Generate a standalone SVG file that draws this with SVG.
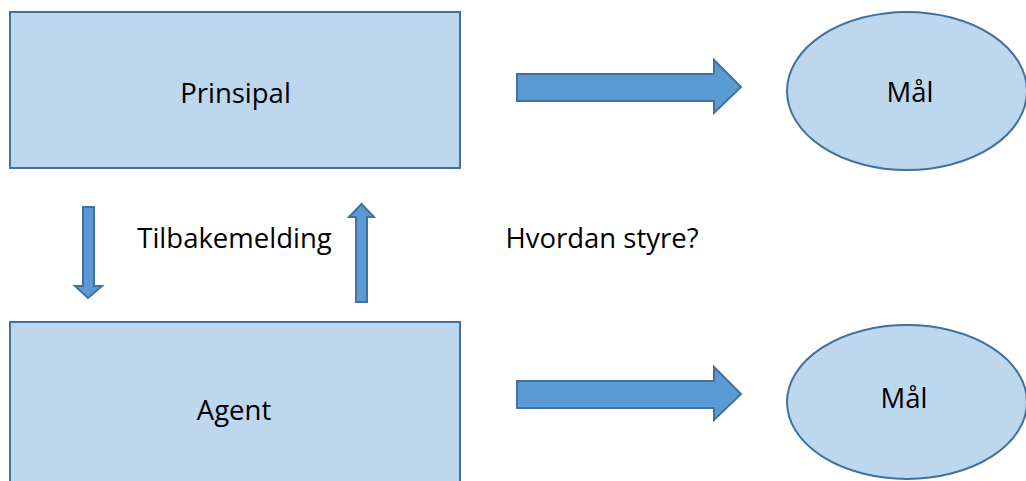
<svg xmlns="http://www.w3.org/2000/svg" width="1026" height="481" viewBox="0 0 1026 481">
  <style>
    .box { fill: #BDD7EE; stroke: #41719C; stroke-width: 2; }
    .arrow { fill: #5B9BD5; stroke: #41719C; stroke-width: 2; stroke-linejoin: miter; }
    .label { font-family: "Open Sans", "Liberation Sans", sans-serif; font-size: 27.5px; fill: #000; text-anchor: middle; }
  </style>
  <rect width="1026" height="481" fill="#FFFFFF"/>

  <g id="connectors">
    <polygon id="arrow-principal-goal" class="arrow" points="517,74 714,74 714,60 741,87 714,113 714,101 517,101"/>
    <polygon id="arrow-agent-goal" class="arrow" points="517,381 714,381 714,367 741,394 714,420 714,408 517,408"/>
    <polygon id="arrow-down" class="arrow" points="83,207 94,207 94,286 102,286 88,298 75,286 83,286"/>
    <polygon id="arrow-up" class="arrow" points="356,302 367,302 367,217 374,217 361.5,204 349,217 356,217"/>
  </g>

  <g id="principal">
    <rect class="box" x="10" y="12" width="450" height="156"/>
    <text class="label" x="235.5" y="103">Prinsipal</text>
  </g>

  <g id="agent">
    <rect class="box" x="10" y="322" width="450" height="170"/>
    <text class="label" x="234" y="420">Agent</text>
  </g>

  <g id="goal-principal">
    <ellipse class="box" cx="907" cy="91" rx="120" ry="79"/>
    <text class="label" x="910" y="102">Mål</text>
  </g>

  <g id="goal-agent">
    <ellipse class="box" cx="907" cy="402" rx="120" ry="77"/>
    <text class="label" x="904" y="408">Mål</text>
  </g>

  <g id="labels">
    <text class="label" x="234.5" y="248">Tilbakemelding</text>
    <text class="label" x="602" y="248">Hvordan styre?</text>
  </g>
</svg>
